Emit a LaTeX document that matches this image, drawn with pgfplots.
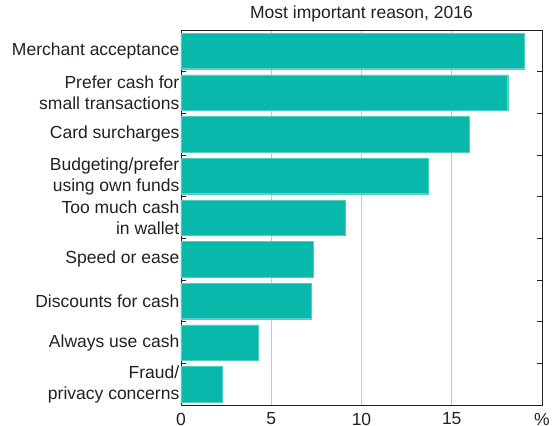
\documentclass[border=0pt]{standalone}
\usepackage{pgfplots}
\pgfplotsset{compat=1.18}
\usepackage{fontspec}
\setmainfont{Liberation Sans}
\definecolor{barteal}{RGB}{8,184,170}
\definecolor{txt}{RGB}{35,31,32}
\definecolor{gridgray}{RGB}{200,200,200}

\begin{document}
\fontsize{17.5}{21}\selectfont
\begin{tikzpicture}
\begin{axis}[
  scale only axis,
  width=361pt, height=375pt,
  xmin=0, xmax=20,
  ymin=-0.5, ymax=8.5,
  y dir=reverse,
  xbar, bar width=0.85,
  xtick={0,5,10,15,20},
  xticklabels={0,5,10,15,\%},
  xmajorgrids=true,
  grid style={gridgray, line width=0.8pt},
  major x tick style={draw=none},
  ytick={0,...,8},
  yticklabels={Merchant acceptance,Prefer cash for\\small transactions,Card surcharges,Budgeting/prefer\\using own funds,Too much cash\\in wallet,Speed or ease,Discounts for cash,Always use cash,Fraud/\\privacy concerns},
  major y tick style={draw=none},
  minor ytick={-0.5,0.5,...,8.5},
  minor tick length=5pt,
  minor y tick style={txt, line width=0.8pt},
  tick align=inside,
  yticklabel style={align=right, inner sep=1.5pt, text=txt},
  xticklabel style={text=txt, inner sep=0pt, text depth=0pt, yshift=-7.5pt},
  /pgf/number format/assume math mode=true,
  axis line style={txt, line width=0.9pt},
  title={Most important reason, 2016},
  title style={text=txt, yshift=-4pt},
  clip=false,
]
\addplot[draw=barteal!70!white, fill=barteal, line width=0.4pt] coordinates {
  (19.0,0) (18.1,1) (15.95,2) (13.7,3) (9.1,4) (7.3,5) (7.2,6) (4.3,7) (2.3,8)
};
\path[use as bounding box] ([xshift=-181pt,yshift=-25pt]rel axis cs:0,1) rectangle ([xshift=17pt,yshift=26pt]rel axis cs:1,0);
\end{axis}
\end{tikzpicture}
\end{document}
